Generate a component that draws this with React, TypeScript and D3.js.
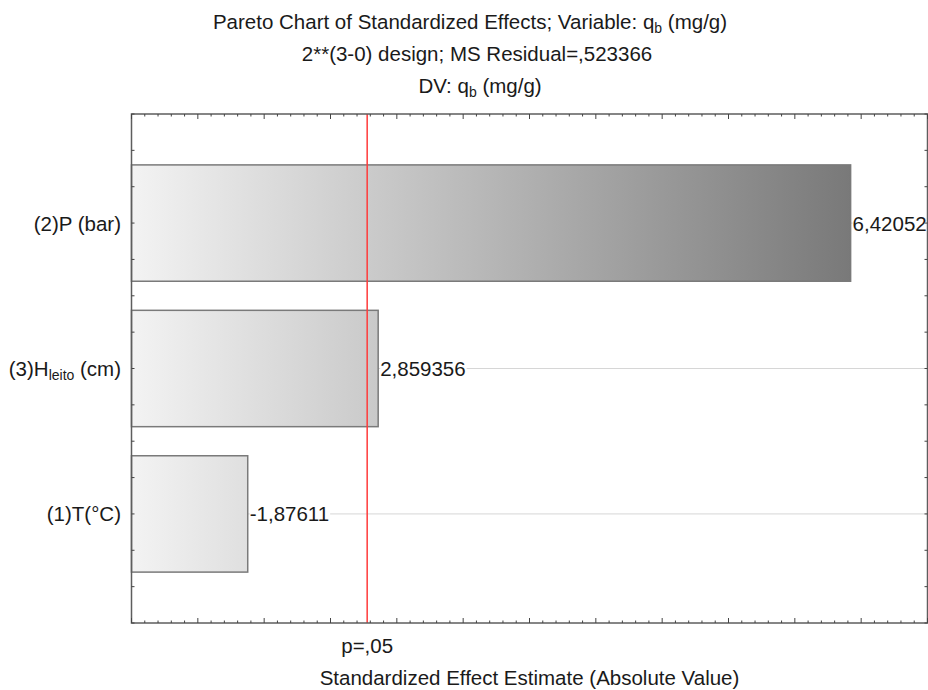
import React from "react";
import * as d3 from "d3";

// ---- data ----
const factorNames = ["(2)P (bar)", "(3)H_leito (cm)", "(1)T(°C)"];
const factorMain = ["(2)P (bar)", "(3)H", "(1)T(°C)"];
const factorSub = ["", "leito", ""];
const factorTail = ["", " (cm)", ""];
const effectValues = [6.42052, 2.859356, -1.87611];
const criticalT = 2.776445;
const criticalLabel = "p=,05";
const titleLines = [
  "Pareto Chart of Standardized Effects; Variable: q",
  "2**(3-0) design; MS Residual=,523366",
  "DV: q",
];
const xAxisTitle = "Standardized Effect Estimate (Absolute Value)";
const xDomain = [1, 7];
const yDomain = [0.25, 3.75];

const W = 928;
const H = 690;
const FONT = "'Liberation Sans', Arial, sans-serif";
const FS = 20.5;
const SUB = 14;

const locale = d3.formatLocale({
  decimal: ",",
  thousands: ".",
  grouping: [3],
  currency: ["", ""],
  minus: "-",
});
const fmt = locale.format(".7~g");

function textWidth(s: string, size: number) {
  const c = document.createElement("canvas");
  const ctx = c.getContext("2d");
  if (!ctx) return s.length * size * 0.55;
  ctx.font = `${size}px 'Liberation Sans', Arial, sans-serif`;
  return ctx.measureText(s).width;
}

export default function App() {
  const left = 131.5;
  const right = 927.5;
  const top = 114;
  const bottom = 623;

  const x = d3.scaleLinear().domain(xDomain).range([left, right]);
  const y = d3.scaleLinear().domain(yDomain).range([top, bottom]);

  const minorX = d3.range(0, 61).map((i) => xDomain[0] + i * 0.1);
  const yTicks = d3.range(0, 15).map((i) => yDomain[0] + i * 0.25);

  const halfBar = 0.4;
  const cx = 470;

  return (
    <svg
      width={W}
      height={H}
      style={{ position: "absolute", left: 0, top: 0, background: "#fff" }}
      fontFamily={FONT}
    >
      <defs>
        <linearGradient id="barGrad" gradientUnits="userSpaceOnUse" x1={left} x2={right} y1={0} y2={0}>
          <stop offset="0" stopColor="#f3f3f3" />
          <stop offset="1" stopColor="#6c6c6c" />
        </linearGradient>
      </defs>
      <rect x={0} y={0} width={W} height={H} fill="#fff" />

      {/* titles */}
      <text x={cx} y={29} textAnchor="middle" fontSize={FS} fill="#1a1a1a">
        {titleLines[0]}
        <tspan fontSize={SUB} dy={4}>b</tspan>
        <tspan dy={-4}> (mg/g)</tspan>
      </text>
      <text x={cx + 7} y={61} textAnchor="middle" fontSize={FS} fill="#1a1a1a">
        {titleLines[1]}
      </text>
      <text x={cx + 10} y={93} textAnchor="middle" fontSize={FS} fill="#1a1a1a">
        {titleLines[2]}
        <tspan fontSize={SUB} dy={4}>b</tspan>
        <tspan dy={-4}> (mg/g)</tspan>
      </text>

      {/* gridlines */}
      {effectValues.map((v, i) => (
        <line key={"g" + i} x1={left} x2={right} y1={y(i + 1)} y2={y(i + 1)} stroke="#d6d6d6" strokeWidth={1} />
      ))}

      {/* bars */}
      {effectValues.map((v, i) => (
        <rect
          key={"b" + i}
          x={x(xDomain[0])}
          y={y(i + 1 - halfBar)}
          width={x(Math.abs(v)) - x(xDomain[0])}
          height={y(i + 1 + halfBar) - y(i + 1 - halfBar)}
          fill="url(#barGrad)"
          stroke="#7a7a7a"
          strokeWidth={1.5}
        />
      ))}

      {/* value labels */}
      {effectValues.map((v, i) => {
        const s = fmt(v);
        const tx = x(Math.abs(v)) + 2;
        const w = textWidth(s, FS);
        return (
          <g key={"l" + i}>
            <rect x={tx} y={y(i + 1) - 10} width={w + 1} height={20} fill="#fff" />
            <text x={tx} y={y(i + 1) + 7.5} fontSize={FS} fill="#1a1a1a">
              {s}
            </text>
          </g>
        );
      })}

      {/* critical line */}
      <line x1={x(criticalT)} x2={x(criticalT)} y1={top} y2={bottom} stroke="#ff3a3a" strokeWidth={1.5} />

      {/* frame */}
      <rect x={left} y={top} width={right - left} height={bottom - top} fill="none" stroke="#5e5e5e" strokeWidth={1.5} />

      {/* x ticks bottom and top */}
      {minorX.map((v, i) => {
        const major = i % 5 === 0;
        const len = major ? 5 : 2.5;
        return (
          <g key={"xt" + i} stroke="#444" strokeWidth={1}>
            <line x1={x(v)} x2={x(v)} y1={bottom} y2={bottom - len} />
            <line x1={x(v)} x2={x(v)} y1={top} y2={top + len} />
          </g>
        );
      })}

      {/* y ticks left and right */}
      {yTicks.map((v, i) => (
        <g key={"yt" + i} stroke="#444" strokeWidth={1}>
          <line x1={left} x2={left + 3} y1={y(v)} y2={y(v)} />
          <line x1={right} x2={right - 3} y1={y(v)} y2={y(v)} />
        </g>
      ))}

      {/* y labels */}
      {factorNames.map((n, i) => (
        <text key={"yl" + i} x={121} y={y(i + 1) + 7.5} textAnchor="end" fontSize={FS} fill="#1a1a1a">
          {factorMain[i]}
          {factorSub[i] ? (
            <tspan fontSize={SUB} dy={4}>{factorSub[i]}</tspan>
          ) : null}
          {factorTail[i] ? <tspan dy={-4}>{factorTail[i]}</tspan> : null}
        </text>
      ))}

      {/* critical label */}
      <text x={x(criticalT)} y={653} textAnchor="middle" fontSize={FS} fill="#1a1a1a">
        {criticalLabel}
      </text>

      {/* x axis title */}
      <text x={(left + right) / 2} y={685} textAnchor="middle" fontSize={FS} fill="#1a1a1a">
        {xAxisTitle}
      </text>
    </svg>
  );
}
